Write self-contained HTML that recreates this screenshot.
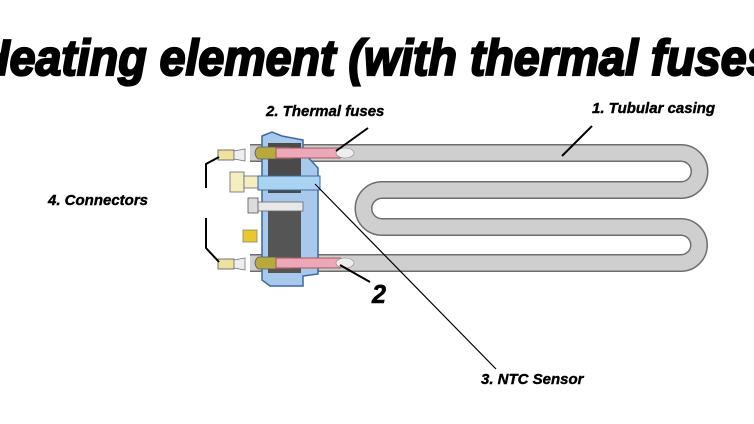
<!DOCTYPE html>
<html><head><style>
html,body{margin:0;padding:0;background:#fff;}
svg{display:block}
text{font-family:"Liberation Sans",Arial,sans-serif;font-weight:bold;font-style:italic;}
</style></head><body>
<svg width="754" height="424" viewBox="0 0 754 424" xmlns="http://www.w3.org/2000/svg">
<rect width="754" height="424" fill="#fff"/>
<text x="-24" y="75" font-size="50" textLength="812" lengthAdjust="spacingAndGlyphs" fill="#000" stroke="#000" stroke-width="2.2">Heating element (with thermal fuses)</text>

<!-- tube -->
<path d="M250 153 H681 A18.5 18.5 0 0 1 681 190 H382 A18.5 18.5 0 0 0 382 227 H681 A18 18 0 0 1 681 263 H250" fill="none" stroke="#6e6e6e" stroke-width="18"/>
<path d="M250 153 H681 A18.5 18.5 0 0 1 681 190 H382 A18.5 18.5 0 0 0 382 227 H681 A18 18 0 0 1 681 263 H250" fill="none" stroke="#cfcfcf" stroke-width="15"/>

<!-- connectors and leads -->
<g>
<rect x="218" y="150" width="16" height="10" fill="#efe2a0" stroke="#555" stroke-width="0.8"/>
<path d="M234 151 L245 149 L245 161 L234 159 Z" fill="#eee" stroke="#777" stroke-width="0.8"/>
<rect x="218" y="259" width="16" height="10" fill="#efe2a0" stroke="#555" stroke-width="0.8"/>
<path d="M234 260 L245 258 L245 270 L234 268 Z" fill="#eee" stroke="#777" stroke-width="0.8"/>
<rect x="230" y="172" width="14" height="20" fill="#f4eec0" stroke="#666" stroke-width="0.8"/>
<rect x="244" y="176" width="14" height="12" fill="#f4eec0" stroke="#666" stroke-width="0.8"/>
<rect x="243" y="230" width="14" height="12" fill="#e8c830" stroke="#886" stroke-width="0.8"/>
<!-- flange -->
<path d="M262 136 L272 132 L282 136 L303 140 L303 152 L318 168 L318 274 L303 276 L303 286 L270 286 L262 280 Z" fill="#a9c9ec" stroke="#3b6aa0" stroke-width="1.5"/>
<rect x="268" y="143" width="33" height="50" fill="#4a4a4a"/>
<rect x="268" y="203" width="33" height="70" fill="#555"/>
<rect x="253" y="202" width="50" height="9" fill="#e8e8e8" stroke="#666" stroke-width="0.8"/>
<rect x="248" y="198" width="10" height="15" fill="#ddd" stroke="#555" stroke-width="0.8"/>
<!-- NTC tube -->
<rect x="258" y="176" width="62" height="14" fill="#a9d3f0" stroke="#3b6aa0" stroke-width="1"/>
<!-- fuses -->
<path d="M258 147 H290 L292 159 H258 Q252 153 258 147Z" fill="#b8a840" stroke="#555" stroke-width="0.8"/>
<path d="M276 148 H340 Q352 153 340 158 H276 Z" fill="#eaa8b8" stroke="#a55" stroke-width="1"/>
<ellipse cx="345" cy="153" rx="9" ry="5" fill="#eee" stroke="#888" stroke-width="0.6"/>
<path d="M258 257 H290 L292 269 H258 Q252 263 258 257Z" fill="#b8a840" stroke="#555" stroke-width="0.8"/>
<path d="M276 258 H340 Q352 263 340 268 H276 Z" fill="#eaa8b8" stroke="#a55" stroke-width="1"/>
<ellipse cx="345" cy="263" rx="9" ry="5" fill="#eee" stroke="#888" stroke-width="0.6"/>
</g>

<!-- leader lines -->
<g stroke="#000" fill="none">
<path d="M219 157 L206 164 V188" stroke-width="2"/>
<path d="M206 218 V248 L219 262" stroke-width="2"/>
<line x1="368" y1="128" x2="336" y2="151" stroke-width="2"/>
<line x1="592" y1="126" x2="562" y2="156" stroke-width="2"/>
<line x1="340" y1="265" x2="370" y2="282" stroke-width="2"/>
<line x1="315" y1="184" x2="496" y2="369" stroke-width="1.2"/>
</g>

<g font-size="15" fill="#000" stroke="#000" stroke-width="0.4">
<text x="266" y="116">2. Thermal fuses</text>
<text x="592" y="113">1. Tubular casing</text>
<text x="48" y="205">4. Connectors</text>
<text x="481" y="384">3. NTC Sensor</text>
</g>
<text x="372" y="303" font-size="26" font-style="normal" textLength="14" lengthAdjust="spacingAndGlyphs" stroke="#000" stroke-width="0.6">2</text>
</svg>
</body></html>
